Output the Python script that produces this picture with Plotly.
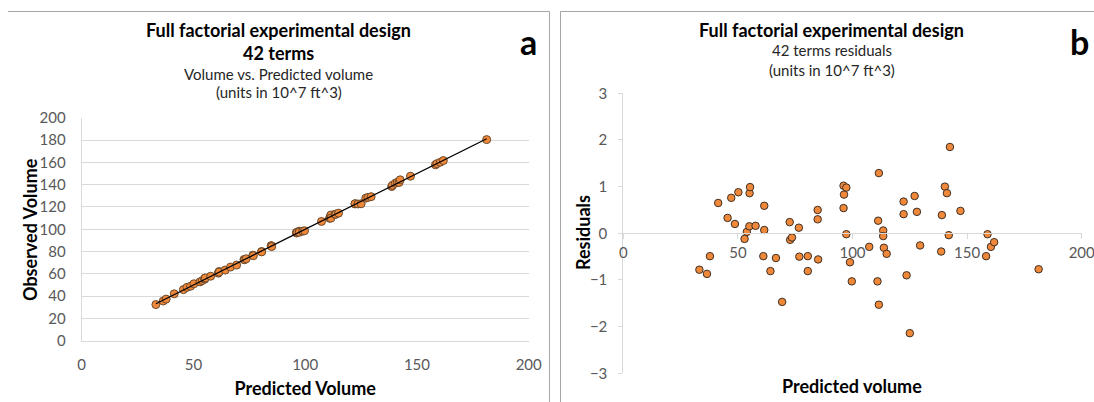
import numpy as np
import plotly.graph_objects as go

# Model output: predicted volume and residuals (units in 10^7 ft^3)
predicted = [33.2, 36.5, 37.8, 41.4, 45.5, 47.1, 48.7, 50.2, 52.9, 53.9,
             55.0, 55.1, 55.3, 57.7, 61.1, 61.5, 61.5, 64.2, 66.6, 69.3,
             72.6, 72.8, 73.6, 76.6, 76.8, 80.5, 80.5, 84.8, 84.8, 85.0,
             96.1, 96.1, 96.3, 97.3, 97.3, 98.9, 99.7, 107.3, 110.9, 111.2,
             111.5, 111.5, 113.4, 113.4, 113.7, 114.9, 122.3, 122.3, 123.6, 125.0,
             127.1, 128.1, 129.5, 138.7, 139.0, 140.3, 141.2, 142.0, 142.5, 147.1,
             158.3, 158.9, 160.4, 161.8, 181.2]
residuals = [-0.78, -0.87, -0.49, 0.65, 0.33, 0.76, 0.20, 0.88, -0.12, 0.03,
             0.15, 0.86, 0.99, 0.16, -0.49, 0.59, 0.07, -0.81, -0.53, -1.47,
             0.24, -0.14, -0.09, 0.12, -0.50, -0.49, -0.81, 0.50, 0.30, -0.56,
             0.54, 1.02, 0.83, 0.98, -0.02, -0.62, -1.03, -0.29, -1.03, 0.27,
             1.29, -1.53, 0.06, -0.06, -0.31, -0.44, 0.41, 0.68, -0.90, -2.14,
             0.80, 0.46, -0.26, -0.39, 0.39, 1.00, 0.86, -0.04, 1.85, 0.48,
             -0.49, -0.02, -0.29, -0.19, -0.77]

x_ticks = [0, 50, 100, 150, 200]
y_ticks_a = [0, 20, 40, 60, 80, 100, 120, 140, 160, 180, 200]
y_ticks_b = [-3, -2, -1, 0, 1, 2, 3]

pred = np.array(predicted)
resid = np.array(residuals)
observed = pred + resid

# linear trendline of observed vs predicted
slope, intercept = np.polyfit(pred, observed, 1)
trend_x = np.array([pred.min(), pred.max()])
trend_y = slope * trend_x + intercept

W, H = 1094, 402
FONT = "Lato"
ORANGE = "#F0883A"
GRID = "#d9d9d9"
TICKC = "#595959"


def px(x):
    return x / W


def py(y):
    return 1 - y / H


fig = go.Figure()

fig.add_trace(go.Scatter(
    x=pred, y=observed, mode="markers", xaxis="x", yaxis="y",
    marker=dict(size=8, color=ORANGE, line=dict(color="#6b4a2c", width=1)),
    showlegend=False))
fig.add_trace(go.Scatter(
    x=trend_x, y=trend_y, mode="lines", xaxis="x", yaxis="y",
    line=dict(color="black", width=1.3), showlegend=False))
fig.add_trace(go.Scatter(
    x=pred, y=resid, mode="markers", xaxis="x2", yaxis="y2",
    marker=dict(size=7.5, color=ORANGE, line=dict(color="#3d3026", width=1)),
    showlegend=False))

tickfont = dict(family=FONT, size=15, color=TICKC)
titlefont = dict(family=FONT, size=18, color="black", weight="bold")

y2_dom = [py(373.3), py(93.3)]
zero_pos = (y2_dom[0] + y2_dom[1]) / 2

fig.update_layout(
    width=W, height=H,
    margin=dict(l=0, r=0, t=0, b=0, pad=0, autoexpand=False),
    paper_bgcolor="white", plot_bgcolor="white",
    font=dict(family=FONT),
    xaxis=dict(domain=[px(81.7), px(528.7)], range=[0, 200], tickvals=x_ticks,
               showgrid=False, zeroline=False, showline=True, linecolor=GRID,
               linewidth=1, ticks="", tickfont=tickfont, ticklabelstandoff=10,
               anchor="y", automargin=False, ticklabeloverflow="allow",
               title=dict(text="Predicted Volume", font=titlefont, standoff=10)),
    yaxis=dict(domain=[py(340.7), py(117.8)], range=[0, 200], tickvals=y_ticks_a,
               showgrid=True, gridcolor=GRID, gridwidth=1, zeroline=False,
               showline=True, linecolor=GRID, ticks="", tickfont=tickfont,
               ticklabelstandoff=12, anchor="x", automargin=False),
    xaxis2=dict(domain=[px(623.3), px(1081.7)], range=[0, 200], tickvals=x_ticks,
                showgrid=False, zeroline=False, showline=True, linecolor=GRID,
                ticks="outside", ticklen=5, tickcolor=GRID, tickfont=tickfont,
                anchor="free", position=zero_pos, ticklabelstandoff=1,
                automargin=False, ticklabeloverflow="allow"),
    xaxis3=dict(range=[0, 200], tickvals=x_ticks, overlaying="x2",
                showgrid=False, zeroline=False, showline=False,
                ticks="inside", ticklen=5, tickcolor=GRID, showticklabels=False,
                anchor="free", position=zero_pos, automargin=False),
    yaxis2=dict(domain=y2_dom, range=[-3, 3], tickvals=y_ticks_b,
                showgrid=False, zeroline=False, showline=True, linecolor=GRID,
                ticks="outside", ticklen=4, tickcolor=GRID, tickfont=tickfont,
                ticklabelstandoff=8, anchor="x2", automargin=False),
)

# titles of both panels
texts = [
    ("Full factorial experimental design", 278, 30, 18, True, "black", 0),
    ("42 terms", 278, 53, 18, True, "black", 0),
    ("Volume vs. Predicted volume", 278, 74.5, 15, False, "#262626", 0),
    ("(units in 10^7 ft^3)", 278.5, 92.5, 15, False, "#262626", 0),
    ("a", 528, 42, 34, True, "black", 0),
    ("Observed Volume", 30, 230, 18, True, "black", -90),
    ("Full factorial experimental design", 831.5, 30, 18, True, "black", 0),
    ("42 terms residuals", 831.5, 50, 15, False, "#262626", 0),
    ("(units in 10^7 ft^3)", 831.5, 70, 15, False, "#262626", 0),
    ("b", 1079, 42, 34, True, "black", 0),
    ("Residuals", 583, 233, 18, True, "black", -90),
    ("Predicted volume", 852, 386, 18, True, "black", 0),
]
for t, x, y, s, bold, col, ang in texts:
    fig.add_annotation(text=t, x=px(x), y=py(y), xref="paper", yref="paper",
                       xanchor="center", yanchor="middle", showarrow=False,
                       textangle=ang,
                       font=dict(family=FONT, size=s, color=col,
                                 weight="bold" if bold else "normal"))

# panel frames
FRAME = "#a6a6a6"
for x0, y0, x1, y1 in [(8, 11.5, 549.5, 11.5), (549.5, 11.5, 549.5, 402),
                       (560.5, 11.5, 1094, 11.5), (560.5, 11.5, 560.5, 402)]:
    fig.add_shape(type="line", xref="paper", yref="paper",
                  x0=px(x0), y0=py(y0), x1=px(x1), y1=py(y1),
                  line=dict(color=FRAME, width=1))

fig.write_html("out.html")
